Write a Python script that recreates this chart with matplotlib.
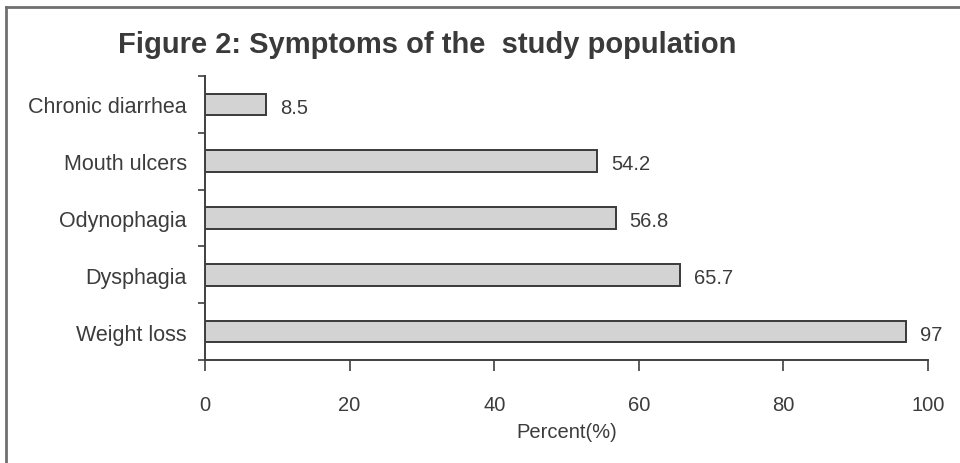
import matplotlib
matplotlib.use("Agg")
import matplotlib.pyplot as plt
from matplotlib.lines import Line2D

# Symptoms and percentages (bottom to top)
symptoms = ["Weight loss", "Dysphagia", "Odynophagia", "Mouth ulcers", "Chronic diarrhea"]
percents = [97, 65.7, 56.8, 54.2, 8.5]
value_labels = ["97", "65.7", "56.8", "54.2", "8.5"]
xticks = [0, 20, 40, 60, 80, 100]

plt.rcParams["font.family"] = ["Liberation Sans", "DejaVu Sans"]
text_color = "#3c3c3c"

fig = plt.figure(figsize=(9.6, 4.64), dpi=100)
ax = fig.add_axes([205 / 960, 1 - 361 / 464, (928 - 205) / 960, (361 - 77) / 464])

y = list(range(len(symptoms)))
ax.barh(y, percents, height=0.38, color="#d3d3d3", edgecolor="#3a3a3a", linewidth=1.4)

for yi, v, lab in zip(y, percents, value_labels):
    ax.annotate(lab, (v, yi), xytext=(10, -2), textcoords="offset points",
                va="center", ha="left", fontsize=14.5, color=text_color)

ax.set_xlim(0, 100)
ax.set_ylim(-0.5, len(symptoms) - 0.5)
ax.set_xticks(xticks)
ax.set_xticklabels([str(t) for t in xticks], fontsize=14.5, color=text_color)

# category names sit between the tick marks
ax.set_yticks([i - 0.5 for i in range(len(symptoms) + 1)])
ax.set_yticklabels([])
ax.set_yticks(y, minor=True)
ax.set_yticklabels(symptoms, minor=True, fontsize=15.5, color=text_color)
ax.tick_params(axis="y", which="minor", length=0, pad=13)
ax.tick_params(axis="y", which="major", length=5, width=1.2, color="#404040")
ax.tick_params(axis="x", length=8, width=1.2, color="#404040", pad=17)

for side in ["top", "right"]:
    ax.spines[side].set_visible(False)
for side in ["left", "bottom"]:
    ax.spines[side].set_color("#404040")
    ax.spines[side].set_linewidth(1.4)

ax.set_xlabel("Percent(%)", fontsize=14.5, color=text_color, labelpad=6)

fig.text(427 / 960, 1 - 45 / 464, "Figure 2: Symptoms of the  study population",
         ha="center", va="center", fontsize=21, fontweight="bold", color="#3a3a3a")

# frame lines along the top and left edge
fig.add_artist(Line2D([6 / 960, 6 / 960], [0, 1 - 8 / 464], transform=fig.transFigure,
                      color="#707070", linewidth=2))
fig.add_artist(Line2D([6 / 960, 1], [1 - 8 / 464, 1 - 8 / 464], transform=fig.transFigure,
                      color="#707070", linewidth=2))

fig.savefig("out.png", dpi=100, facecolor="white")
